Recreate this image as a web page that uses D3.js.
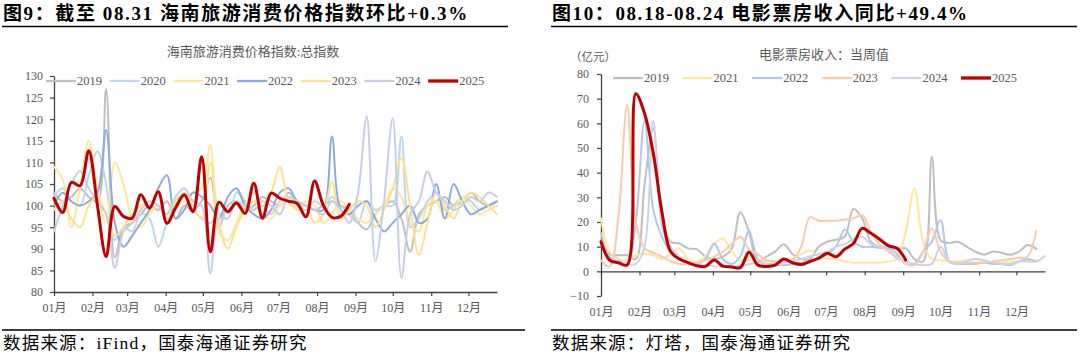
<!DOCTYPE html>
<html><head><meta charset="utf-8">
<script src="https://cdn.jsdelivr.net/npm/d3@7"></script>
<style>
body{margin:0;background:#fff;}
svg{display:block;}
</style></head><body>
<svg id="c" width="1080" height="358"></svg>
<script>
// ---------- data ----------
const months = ["01月","02月","03月","04月","05月","06月","07月","08月","09月","10月","11月","12月"];
const monthStartDays = [0,31,59,90,120,151,181,212,243,273,304,334];
const daysPerPoint = 7;

// Left: 海南旅游消费价格指数 (weekly)
const hnYears = ["2019","2020","2021","2022","2023","2024","2025"];
const hn2019 = [103,101,102,104,102,101,127,88,95,96, 98,100,99,101,97,100,99,101,106.5,95, 100,101,99,100,102,101,100,103,101,100, 99,100,101,100,99,96,94.5,98,100,101, 97,89.3,98,100,101,102,100,101,103,101, 100,101];
const hn2020 = [102,104,101,100,107,112.5,105,92,95,94, 98,97,90.5,96,100,102,99,97,96,98, 97,103,101,99,100,98,101,102,100,99, 101,100,102,100,98,96,101,99,100,100, 116,95,97,101,103,99,100,102,101,99, 100,101];
const hn2021 = [109,106,95,104,115,104,96,110,105,97, 95,98,100,97,99,102,103,104,114,94, 92,96,100,103,98,97,100,102,99,101, 100,96,98,101,99,97,96,98,100,104, 102,96,94,100,101,97,99,102,100,98, 99,100];
const hn2022 = [100,103,101,100,101,103,117.5,96,90.5,93, 96,99,104,107,97,99,103,102,100,97, 102,104,100,98,97,99,103,104,101,100, 99,99,116,99,98,100,101,97,94,96, 98,100,96,97,105,97,105,101,98,99, 100,101];
const hn2023 = [99,101,97,95,100,102,98,93,95,98, 100,101,100,98,101,103,100,97,110,96, 90,95,99,101,100,103,109,101,99,100, 96,98,105.5,97,99,101,100,95,99,104, 111,100,88.6,96,103,100,97,101,103,102, 100,98];
const hn2024 = [94,100,105,108,104,101,98,85.6,94,96, 99,101,100,98,102,104,101,100,84.3,97, 97,101,100,99,101,100,98,102,101,100, 99,98,101,99,96,103,120.6,87.2,101,120.2, 83.3,98,101,107.9,103,101,99,100,102,101, 103,102];
const hn2025 = [101.7,98.4,105.4,104.6,112.7,100,88.2,99.8,97.5,97.1, 102.5,99.4,103.2,95.9,99.5,102.5,98.6,111.3,89.3,100.8, 98.6,100.6,98.2,105.2,97.1,102.9,101.7,101,100.5,97.4, 105.7,100.1,97.3,97.5,100.3];
const hnTicks = [80,85,90,95,100,105,110,115,120,125,130];

// Right: 电影票房收入 当周值 (亿元, weekly)
const boxYears = ["2019","2021","2022","2023","2024","2025"];
const box2019 = [12.5,7,6.5,6.5,5,35,58,22,12,11.3, 9.3,9,6,5,6,9,24,16,4,6, 8,11,7,5,5,10,12,12.8,14,25.3, 21.5,12,10,9.5,9,9.3,5,4,46.5,12.6, 11.5,12,10,8,6.7,8,7.5,6.7,8,10.7, 9.1];
const box2021 = [21.5,8,5,4.5,6.5,7,6.5,5,7,9.3, 5,4,6,11,13.4,8,4.5,4.5,4.5,4, 4,4.5,5,7,8.4,6,5,5,4,3.5, 3.5,3.5,3.5,4,5,16,33.6,12,5,4.5, 4,4,4.5,5,4,3.5,3.5,4,4,4.5, 4];
const box2022 = [15.5,6,4,2.5,20,61,25,14,8,5, 3.5,3,5,11.3,5,3,6,16.5,5,2.5, 2.5,2.5,3,3.5,4,5,7,10,17,12, 10,10,9.5,9.5,7,3,3,8,12,20.8, 4,3,3,3,3.5,3,3,2.5,4,5, 4];
const box2023 = [4.5,2,22,67.5,20,9.4,7.5,6,4,3, 3,3.5,4.5,6,8,11,14,9,7,4.5, 4,4,4.5,10,22,20.5,20.5,20.5,21,21.5, 22.8,16,11,8,6,3,2.5,8,17.4,8, 4,3.5,3.5,3.5,3.5,4,4.5,5,5.5,6, 16.5];
const box2024 = [11,5,4.5,3,3,10,61,18,10,6, 4,3,2.5,2,2,2,2,3,3.5,3, 3,3.5,4,5,6,7,8,10,11,13, 14,11,10,9,5,4,3,2.5,3,10, 4,3,4,5,4.5,3.5,3,3,4,4, 4,6.2];
const box2025 = [12,4.5,3.5,2.6,72,64,48,24,8,5, 3.5,2.3,2,4.6,2.1,1.8,1.5,7.7,2.6,2, 2.5,5,3.5,2.8,4,5.3,7.3,5.9,9,11.3, 17.4,15.4,13,10.4,9.4,4.6];
const boxTicks = [-10,0,10,20,30,40,50,60,70,80];

// ---------- drawing ----------
const svg = d3.select("#c");
const serif = "'Liberation Serif','Times New Roman','Noto Sans CJK SC',serif";
const cjk = "'Liberation Serif','Noto Sans CJK SC',sans-serif";
const axisColor = "#404040";
const textGray = "#595959";

function drawPanel(cfg){
  const x = d3.scaleLinear().domain([0, 357]).range([cfg.x0, cfg.x1]);
  const y = d3.scaleLinear().domain(cfg.yDomain).range([cfg.yBottom, cfg.yTop]);
  const g = svg.append("g");

  // title
  g.append("text").attr("x", cfg.titleX).attr("y", 20)
    .attr("font-family", cjk).attr("font-weight", "bold").attr("font-size", 19)
    .attr("letter-spacing", 1.6)
    .attr("fill", "#000").text(cfg.title);
  g.append("line").attr("x1", cfg.titleX - 1).attr("x2", cfg.lineEnd)
    .attr("y1", 26.5).attr("y2", 26.5).attr("stroke", "#000").attr("stroke-width", 1.5);

  // subtitle
  g.append("text").attr("x", cfg.subX).attr("y", cfg.subY).attr("text-anchor", "middle")
    .attr("font-family", cjk).attr("font-size", 13).attr("fill", textGray).text(cfg.subtitle);

  if (cfg.unit) {
    g.append("text").attr("x", cfg.unitX).attr("y", 61)
      .attr("font-family", cjk).attr("font-size", 11.5).attr("fill", textGray).text(cfg.unit);
  }

  // y axis
  const yAxis = g.append("g").attr("transform", `translate(${cfg.x0},0)`)
    .call(d3.axisLeft(y).tickValues(cfg.yTicks).tickSize(4).tickSizeOuter(0).tickPadding(cfg.yPad));
  yAxis.select(".domain").attr("stroke", axisColor).attr("stroke-width", 1.3);
  yAxis.selectAll(".tick line").attr("stroke", axisColor).attr("stroke-width", 1.2);
  yAxis.selectAll(".tick text").attr("font-family", serif).attr("font-size", 12).attr("fill", textGray);

  // x axis
  const xAxis = g.append("g").attr("transform", `translate(0,${y(cfg.xAxisAt)})`)
    .call(d3.axisBottom(x).tickValues(monthStartDays).tickFormat((d,i)=>months[i])
      .tickSize(4).tickSizeOuter(0));
  xAxis.select(".domain").attr("stroke", axisColor).attr("stroke-width", 1.3);
  xAxis.selectAll(".tick line").attr("stroke", axisColor).attr("stroke-width", 1.2);
  xAxis.selectAll(".tick text").attr("font-family", cjk).attr("font-size", 12).attr("fill", textGray)
    .attr("y", cfg.labelY - y(cfg.xAxisAt)).attr("dy", "0.35em");

  // lines
  const line = d3.line().x((d,i)=>x(i*daysPerPoint)).y(d=>y(d)).curve(d3.curveCatmullRom.alpha(0.5));
  cfg.series.forEach(s=>{
    g.append("path").datum(s.values).attr("d", line).attr("fill", "none")
      .attr("stroke", s.color).attr("stroke-width", s.width)
      .attr("stroke-linejoin", "round").attr("stroke-linecap", "round");
  });

  // legend
  cfg.series.forEach((s,i)=>{
    const lx = cfg.legX + i*cfg.legStep;
    g.append("line").attr("x1", lx).attr("x2", lx+30).attr("y1", cfg.legY).attr("y2", cfg.legY)
      .attr("stroke", s.color).attr("stroke-width", s.width + 0.3);
    g.append("text").attr("x", lx+31).attr("y", cfg.legY).attr("dy", "0.35em")
      .attr("font-family", serif).attr("font-size", 12.5).attr("fill", textGray).text(s.name);
  });

  // footer
  g.append("line").attr("x1", cfg.titleX - 1).attr("x2", cfg.footEnd)
    .attr("y1", 330).attr("y2", 330).attr("stroke", "#000").attr("stroke-width", 1.5);
  g.append("text").attr("x", cfg.titleX).attr("y", 349)
    .attr("font-family", cjk).attr("font-size", 17.5).attr("letter-spacing", 1.2)
    .attr("fill", "#000").text(cfg.source);
}

const hnColors = ["#BFBFBF","#BDD7EE","#FFE699","#8FAADC","#FFE08C","#C5D0E6","#C00000"];
const hnValues = [hn2019,hn2020,hn2021,hn2022,hn2023,hn2024,hn2025];
drawPanel({
  title: "图9：截至 08.31 海南旅游消费价格指数环比+0.3%",
  subtitle: "海南旅游消费价格指数:总指数",
  source: "数据来源：iFind，国泰海通证券研究",
  titleX: 3, lineEnd: 508, footEnd: 525,
  subX: 253, subY: 56,
  x0: 54, x1: 497, yTop: 76, yBottom: 292, yDomain: [80,130], yTicks: hnTicks, yPad: 7,
  xAxisAt: 80, labelY: 308,
  legX: 46, legStep: 63.7, legY: 81,
  series: hnYears.map((n,i)=>({name:n, values:hnValues[i], color:hnColors[i], width: n==="2025"?3:2}))
});

const boxColors = ["#BFBFBF","#FFE699","#B4C7E7","#F8CBAD","#CAD4E8","#C00000"];
const boxValues = [box2019,box2021,box2022,box2023,box2024,box2025];
drawPanel({
  title: "图10：08.18-08.24 电影票房收入同比+49.4%",
  subtitle: "电影票房收入：当周值",
  unit: "（亿元）", unitX: 570,
  source: "数据来源：灯塔，国泰海通证券研究",
  titleX: 552, lineEnd: 1077, footEnd: 1077,
  subX: 824, subY: 59,
  x0: 601, x1: 1045, yTop: 74, yBottom: 296, yDomain: [-10,80], yTicks: boxTicks, yPad: 8,
  xAxisAt: 0, labelY: 312,
  legX: 613, legStep: 69.6, legY: 78,
  series: boxYears.map((n,i)=>({name:n, values:boxValues[i], color:boxColors[i], width: n==="2025"?3:2}))
});
</script>
</body></html>
